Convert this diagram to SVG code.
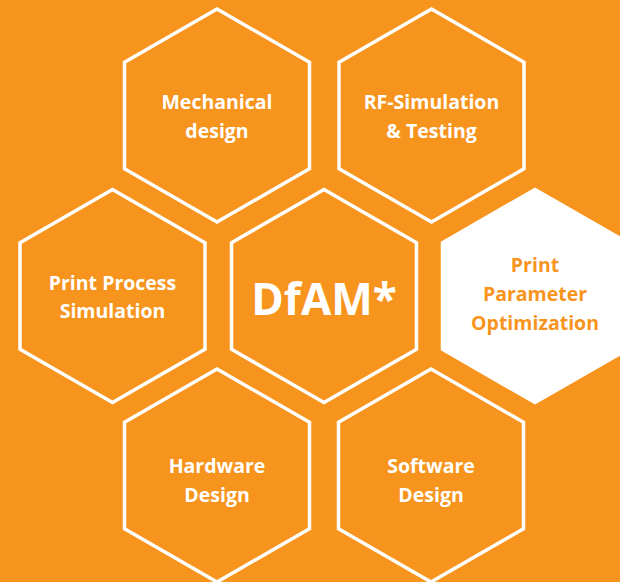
<svg xmlns="http://www.w3.org/2000/svg" xmlns:xlink="http://www.w3.org/1999/xlink" width="620" height="582" viewBox="0 0 620 582">
<style>
.hex{fill:none;stroke:#fff;stroke-width:3.5;stroke-linejoin:miter}
.hexf{fill:#fff;stroke:#fff;stroke-width:3.5}
.t{font-family:"Open Sans","Noto Sans","Liberation Sans",sans-serif;font-weight:700;font-size:19.5px;fill:#fff;text-anchor:middle}
.to{fill:#F7941D}
.big{font-size:44px}
</style>
<defs>
<path id="hx" d="M0,-106.5 L92.5,-53.3 L92.5,53.3 L0,106.5 L-92.5,53.3 L-92.5,-53.3 Z"/>
</defs>
<rect width="620" height="582" fill="#F7941D"/>
<g id="connectors"/>
<g id="mechanical">
<use xlink:href="#hx" href="#hx" class="hex" transform="translate(217,115.5)"/>
<text class="t" x="217" y="109">Mechanical</text>
<text class="t" x="217" y="138">design</text>
</g>
<g id="rf-simulation">
<use xlink:href="#hx" href="#hx" class="hex" transform="translate(431.5,115.5)"/>
<text class="t" x="431.5" y="109">RF-Simulation</text>
<text class="t" x="431.5" y="138">&amp; Testing</text>
</g>
<g id="print-process">
<use xlink:href="#hx" href="#hx" class="hex" transform="translate(112.5,296)"/>
<text class="t" x="112.5" y="290">Print Process</text>
<text class="t" x="112.5" y="318">Simulation</text>
</g>
<g id="dfam">
<use xlink:href="#hx" href="#hx" class="hex" transform="translate(324,296)"/>
<text class="t big" x="324" y="315">DfAM*</text>
</g>
<g id="print-parameter">
<use xlink:href="#hx" href="#hx" class="hexf" transform="translate(535,296)"/>
<text class="t to" x="535" y="272">Print</text>
<text class="t to" x="535" y="301">Parameter</text>
<text class="t to" x="535" y="330">Optimization</text>
</g>
<g id="hardware">
<use xlink:href="#hx" href="#hx" class="hex" transform="translate(217,475.5)"/>
<text class="t" x="217" y="473">Hardware</text>
<text class="t" x="217" y="502">Design</text>
</g>
<g id="software">
<use xlink:href="#hx" href="#hx" class="hex" transform="translate(431,475.5)"/>
<text class="t" x="431" y="473">Software</text>
<text class="t" x="431" y="502">Design</text>
</g>
</svg>
